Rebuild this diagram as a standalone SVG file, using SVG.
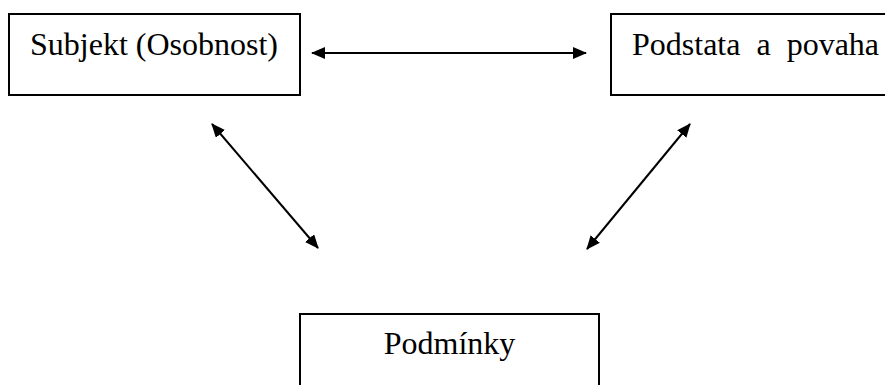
<svg xmlns="http://www.w3.org/2000/svg" width="885" height="385" viewBox="0 0 885 385">
<style>
.box{fill:#fff;stroke:#000;stroke-width:2}
.lbl{font-family:"Liberation Serif","Times New Roman",serif;font-size:32px;fill:#000;white-space:pre}
.con{stroke:#000;stroke-width:2;fill:none;marker-start:url(#ah);marker-end:url(#ah)}
</style>
<defs>
<marker id="ah" viewBox="0 0 14 12" refX="13" refY="6" markerWidth="14" markerHeight="12" markerUnits="userSpaceOnUse" orient="auto-start-reverse">
<path d="M0,0 L14,6 L0,12 Z" fill="#000"/>
</marker>
</defs>
<rect width="885" height="385" fill="#fff"/>
<g id="subjekt">
<rect class="box" x="9" y="14" width="291" height="81"/>
<text class="lbl" x="154" y="55" text-anchor="middle">Subjekt (Osobnost)</text>
</g>
<g id="podstata">
<rect class="box" x="611" y="14" width="290" height="81"/>
<text class="lbl" x="632" y="55" xml:space="preserve">Podstata  a  povaha</text>
</g>
<g id="podminky">
<rect class="box" x="300" y="314" width="299" height="90"/>
<text class="lbl" x="449.5" y="354" text-anchor="middle">Podmínky</text>
</g>
<g id="connectors">
<line class="con" x1="312" y1="53" x2="586" y2="53"/>
<line class="con" x1="212" y1="124" x2="318" y2="248"/>
<line class="con" x1="690" y1="124" x2="587" y2="249"/>
</g>
</svg>
